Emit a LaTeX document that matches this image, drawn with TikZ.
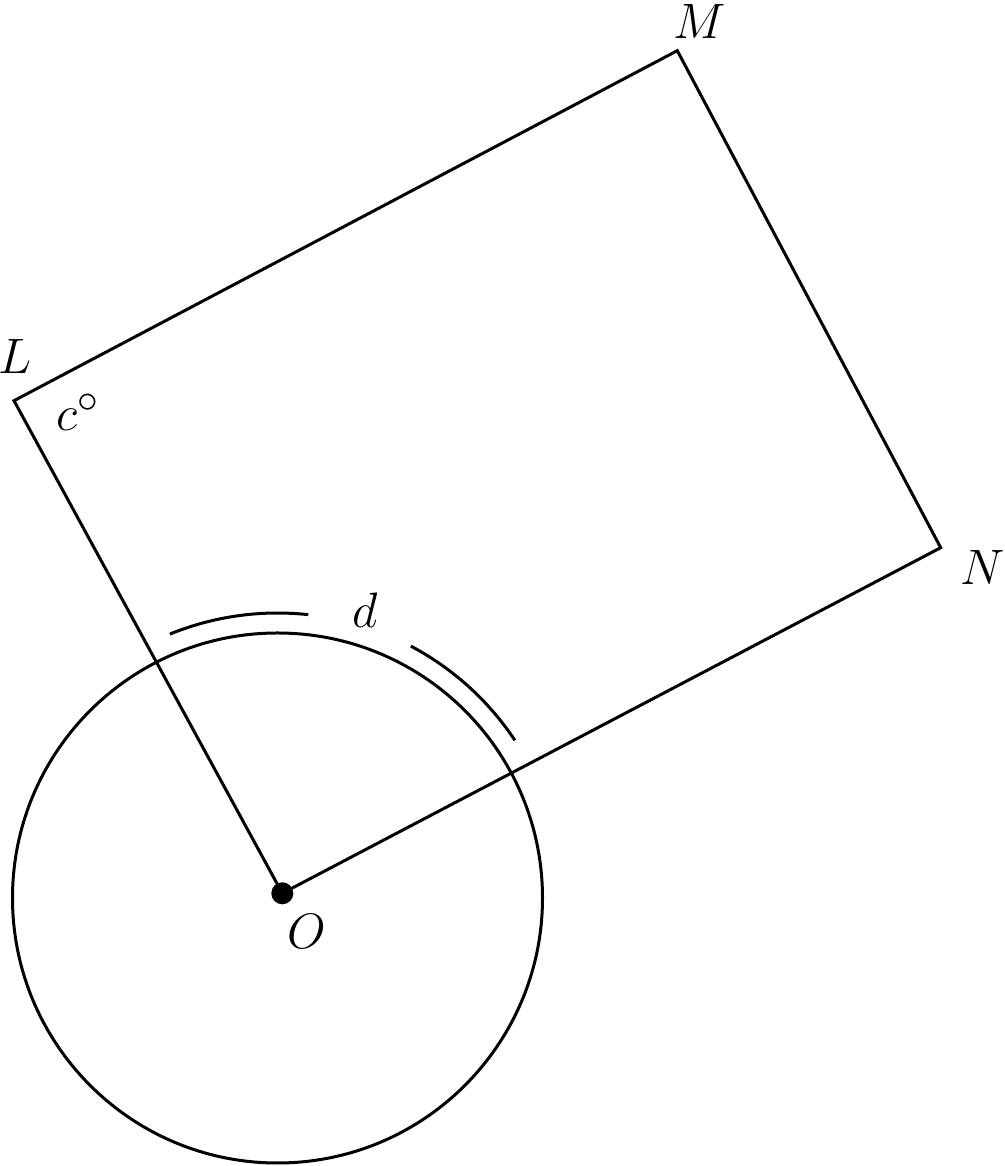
\documentclass[tikz,border=0pt]{standalone}
\begin{document}
\begin{tikzpicture}[x=0.5pt,y=0.5pt,
  edge/.style={line width=1.5pt, line join=miter},
  lbl/.style={inner sep=0pt, font=\fontsize{24.88}{30}\selectfont}]
\useasboundingbox (0,0) rectangle (1005,1166);
\coordinate (O) at (282.3,272.7);
\coordinate (L) at (14,765.3);
\coordinate (M) at (677.3,1115.3);
\coordinate (N) at (940.7,618.3);
\coordinate (C) at (277.5,268);
% circle
\draw[edge] (C) circle[radius=132.5pt];
% quadrilateral
\draw[edge] (O) -- (L) -- (M) -- (N) -- cycle;
% outer arc with gap
\draw[edge] ([shift={(112.2:142.5pt)}]C) arc[start angle=112.2, end angle=83.8, radius=142.5pt];
\draw[edge] ([shift={(62.1:142.5pt)}]C) arc[start angle=62.1, end angle=33.6, radius=142.5pt];
% centre dot
\fill (O) circle[radius=5.5pt];
% labels
\node[lbl] (tL) at (15,809.3) {$L$};
\node[lbl] (tM) at (700,1144.3) {$M$};
\node[lbl] (tN) at (983,598) {$N$};
\node[lbl] (tO) at (306.7,234.3) {$O$};
\node[lbl] (tc) at (78,754) {$c^\circ$};
\node[lbl] (td) at (365,556) {$d$};
\end{tikzpicture}
\end{document}
